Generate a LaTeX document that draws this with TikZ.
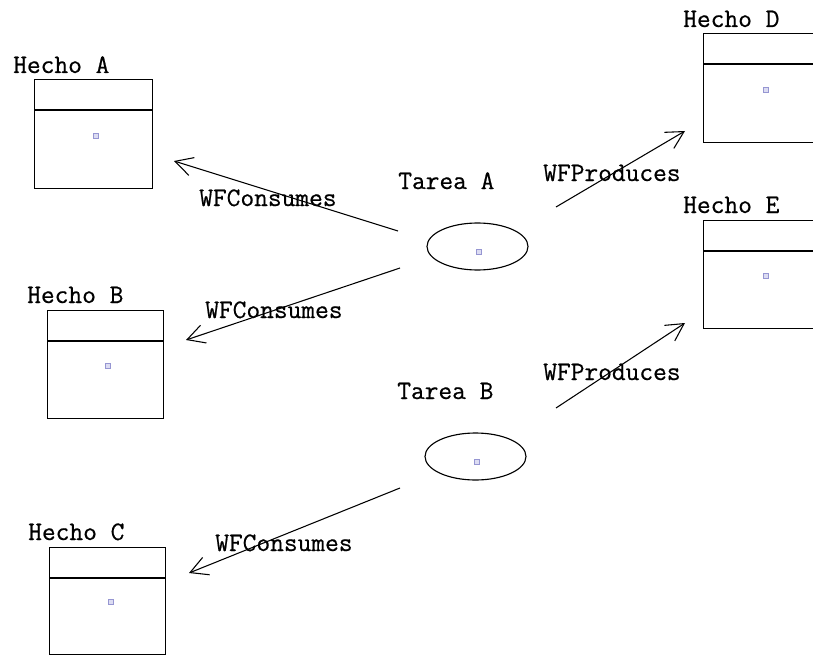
\documentclass[tikz,border=0pt]{standalone}
\usepackage{fontspec}
\usetikzlibrary{arrows.meta,shapes.geometric,calc}
\newfontfamily\labelfont[FakeBold=0.6]{Latin Modern Mono}
\definecolor{pinedge}{RGB}{150,150,210}
\definecolor{pinfill}{RGB}{220,220,242}
\begin{document}
\begin{tikzpicture}[x=0.75pt,y=-0.75pt,
  fact/.style={draw, rectangle, line width=1.05pt, minimum width=88.5pt,
    minimum height=81.75pt, inner sep=0pt, anchor=north west},
  task/.style={draw, ellipse, line width=0.85pt, minimum width=75.75pt,
    minimum height=35.25pt, inner sep=0pt},
  lbl/.style={font=\labelfont\fontsize{20}{24}\selectfont, inner sep=0pt, anchor=base west},
  flow/.style={line width=0.8pt, -{Straight Barb[length=13pt,width=14pt,line width=0.8pt]}},
  pin/.style={draw=pinedge, fill=pinfill, rectangle, minimum size=3.8pt,
    inner sep=0pt, line width=0.7pt}]
\useasboundingbox (0,0) rectangle (813,656);
\clip (0,0) rectangle (813,656);

% fact boxes
\node[fact] (hA) at (34,79) {};
\node[fact, minimum width=87pt, minimum height=81pt] (hB) at (47,310) {};
\node[fact, minimum width=87pt, minimum height=80.25pt] (hC) at (49,547) {};
\node[fact] (hD) at (703,33) {};
\node[fact, minimum height=81pt] (hE) at (703,220) {};
\foreach \b in {hA,hB,hC,hD,hE}
  \draw[line width=1.05pt] ($(\b.north west)+(0,31)$) -- ($(\b.north east)+(0,31)$);

% fact titles
\node[lbl] (tA) at (13,73) {Hecho A};
\node[lbl] (tB) at (27,303) {Hecho B};
\node[lbl] (tC) at (28,540) {Hecho C};
\node[lbl] (tD) at (683,27) {Hecho D};
\node[lbl] (tE) at (683,213) {Hecho E};

% tasks
\node[task] (kA) at (477.5,246.5) {};
\node[task] (kB) at (475.5,456.5) {};
\node[lbl] (lkA) at (398,189) {Tarea A};
\node[lbl] (lkB) at (397,399) {Tarea B};

% centre markers
\node[pin] (pA) at (96,136) {};
\node[pin] (pB) at (108,366) {};
\node[pin] (pC) at (111,602) {};
\node[pin] (pD) at (766,90) {};
\node[pin] (pE) at (766,276) {};
\node[pin] (pkA) at (479,252) {};
\node[pin] (pkB) at (477,462) {};

% connector end points
\coordinate (a1s) at (398,231);
\coordinate (a1e) at (174,161);
\coordinate (a2s) at (400,268);
\coordinate (a2e) at (186,340);
\coordinate (a3s) at (400,488);
\coordinate (a3e) at (189,573);
\coordinate (p1s) at (556,207);
\coordinate (p1e) at (685,131);
\coordinate (p2s) at (556,408);
\coordinate (p2e) at (685,323);

\draw[flow] (a1s) -- (a1e);
\draw[flow] (a2s) -- (a2e);
\draw[flow] (a3s) -- (a3e);
\draw[flow] (p1s) -- (p1e);
\draw[flow] (p2s) -- (p2e);

% connector labels
\node[lbl] (c1) at (199,206) {WFConsumes};
\node[lbl] (c2) at (205,318) {WFConsumes};
\node[lbl] (c3) at (215,551) {WFConsumes};
\node[lbl] (r1) at (543,181) {WFProduces};
\node[lbl] (r2) at (543,380) {WFProduces};
\end{tikzpicture}
\end{document}
